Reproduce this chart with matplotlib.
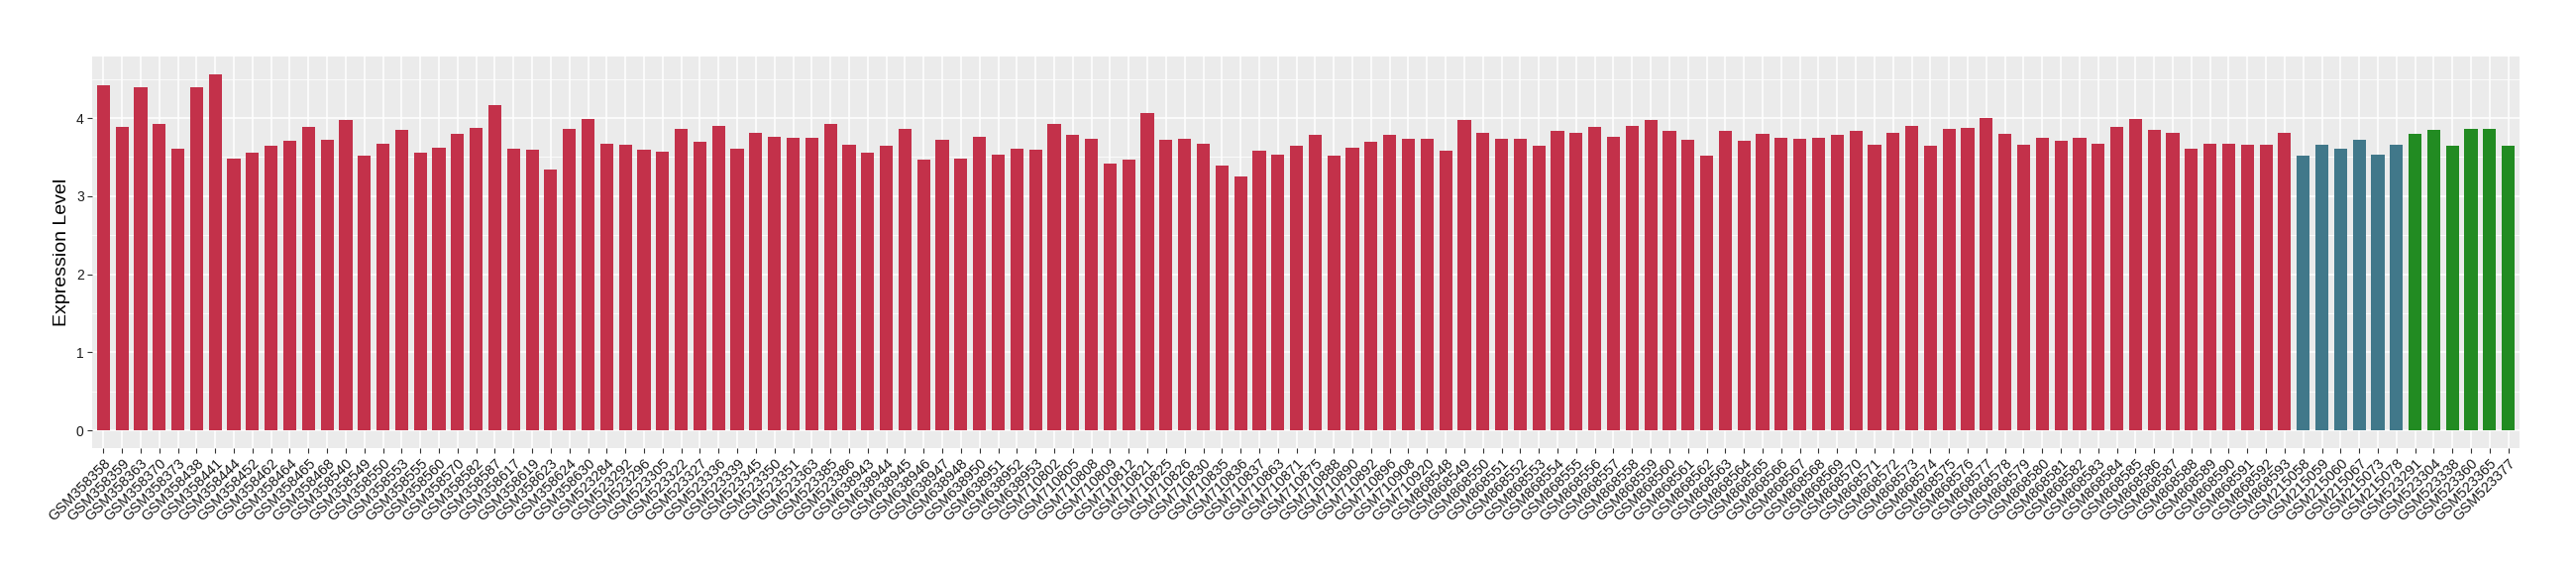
import matplotlib
matplotlib.use("Agg")
import matplotlib.pyplot as plt
from matplotlib.ticker import MultipleLocator

plt.rcParams['font.family'] = ['Liberation Sans', 'DejaVu Sans']

# ---- data ----
group_a_samples = [
    "GSM358358", "GSM358359", "GSM358363", "GSM358370", "GSM358373", "GSM358438",
    "GSM358441", "GSM358444", "GSM358452", "GSM358462", "GSM358464", "GSM358465",
    "GSM358468", "GSM358540", "GSM358549", "GSM358550", "GSM358553", "GSM358555",
    "GSM358560", "GSM358570", "GSM358582", "GSM358587", "GSM358617", "GSM358619",
    "GSM358623", "GSM358624", "GSM358630",
    "GSM523284", "GSM523292", "GSM523296", "GSM523305", "GSM523322", "GSM523327",
    "GSM523336", "GSM523339", "GSM523345", "GSM523350", "GSM523351", "GSM523363",
    "GSM523385", "GSM523386",
    "GSM638943", "GSM638944", "GSM638945", "GSM638946", "GSM638947", "GSM638948",
    "GSM638950", "GSM638951", "GSM638952", "GSM638953",
    "GSM710802", "GSM710805", "GSM710808", "GSM710809", "GSM710812", "GSM710821",
    "GSM710825", "GSM710826", "GSM710830", "GSM710835", "GSM710836", "GSM710837",
    "GSM710863", "GSM710871", "GSM710875", "GSM710888", "GSM710890", "GSM710892",
    "GSM710896", "GSM710908", "GSM710920",
] + ["GSM8685%02d" % k for k in range(48, 94)]

group_a_values = [
    4.42, 3.89, 4.40, 3.93, 3.61, 4.40, 4.56, 3.48, 3.56, 3.65,
    3.71, 3.89, 3.72, 3.98, 3.52, 3.67, 3.85, 3.56, 3.62, 3.80,
    3.88, 4.16, 3.61, 3.60, 3.34, 3.86, 3.99, 3.67, 3.66, 3.60,
    3.57, 3.86, 3.70, 3.90, 3.61, 3.81, 3.76, 3.75, 3.75, 3.92,
    3.66, 3.56, 3.65, 3.86, 3.47, 3.72, 3.48, 3.76, 3.53, 3.61,
    3.60, 3.93, 3.78, 3.74, 3.42, 3.47, 4.07, 3.72, 3.74, 3.67,
    3.39, 3.25, 3.58, 3.53, 3.64, 3.78, 3.52, 3.62, 3.69, 3.78,
    3.74, 3.74, 3.58, 3.98, 3.81, 3.74, 3.74, 3.65, 3.83, 3.81,
    3.89, 3.76, 3.90, 3.97, 3.83, 3.72, 3.52, 3.84, 3.71, 3.80,
    3.75, 3.74, 3.75, 3.79, 3.84, 3.66, 3.81, 3.90, 3.64, 3.86,
    3.88, 4.00, 3.80, 3.66, 3.75, 3.71, 3.75, 3.67, 3.89, 3.99,
    3.85, 3.81, 3.61, 3.67, 3.67, 3.66, 3.66, 3.81,
]

group_b_samples = ["GSM215058", "GSM215059", "GSM215060", "GSM215067", "GSM215073", "GSM215078"]
group_b_values = [3.52, 3.66, 3.61, 3.72, 3.53, 3.66]

group_c_samples = ["GSM523291", "GSM523304", "GSM523338", "GSM523360", "GSM523365", "GSM523377"]
group_c_values = [3.80, 3.85, 3.65, 3.86, 3.86, 3.65]

group_colors = ["#C3314A", "#41788A", "#228B22"]
y_label = "Expression Level"

# ---- assemble ----
samples = group_a_samples + group_b_samples + group_c_samples
values = group_a_values + group_b_values + group_c_values
colors = ([group_colors[0]] * len(group_a_values) + [group_colors[1]] * len(group_b_values)
          + [group_colors[2]] * len(group_c_values))
n = len(samples)
pos = list(range(n))

fig = plt.figure(figsize=(26, 5.8), dpi=100)
ax = fig.add_axes([93 / 2600, 1 - 452 / 580, (2543 - 93) / 2600, (452 - 57) / 580])

ax.set_facecolor("#EBEBEB")
ax.bar(pos, values, width=0.7, color=colors, zorder=3, linewidth=0)

ax.set_xlim(-0.6, n - 1 + 0.6)
vmax = max(values)
ax.set_ylim(-0.05 * vmax, vmax * 1.05)

ax.yaxis.set_major_locator(MultipleLocator(1))
ax.yaxis.set_minor_locator(MultipleLocator(0.5))
ax.set_xticks(pos)
ax.set_xticklabels(samples, rotation=45, ha="right", va="top", rotation_mode="anchor",
                   fontsize=10.5, color="#1a1a1a")
ax.tick_params(axis="y", labelsize=10, labelcolor="#1a1a1a")
ax.tick_params(axis="both", which="major", length=3.5, width=0.8, color="#333333", pad=2.5)
ax.tick_params(axis="y", which="minor", length=0)

ax.grid(True, which="major", axis="both", color="white", linewidth=1.1, zorder=0)
ax.grid(True, which="minor", axis="y", color="white", linewidth=0.55, zorder=0)
ax.set_axisbelow(True)
for s in ax.spines.values():
    s.set_visible(False)

ax.set_ylabel(y_label, fontsize=14, color="black", labelpad=4)

fig.savefig("out.png", dpi=100, facecolor="white")
